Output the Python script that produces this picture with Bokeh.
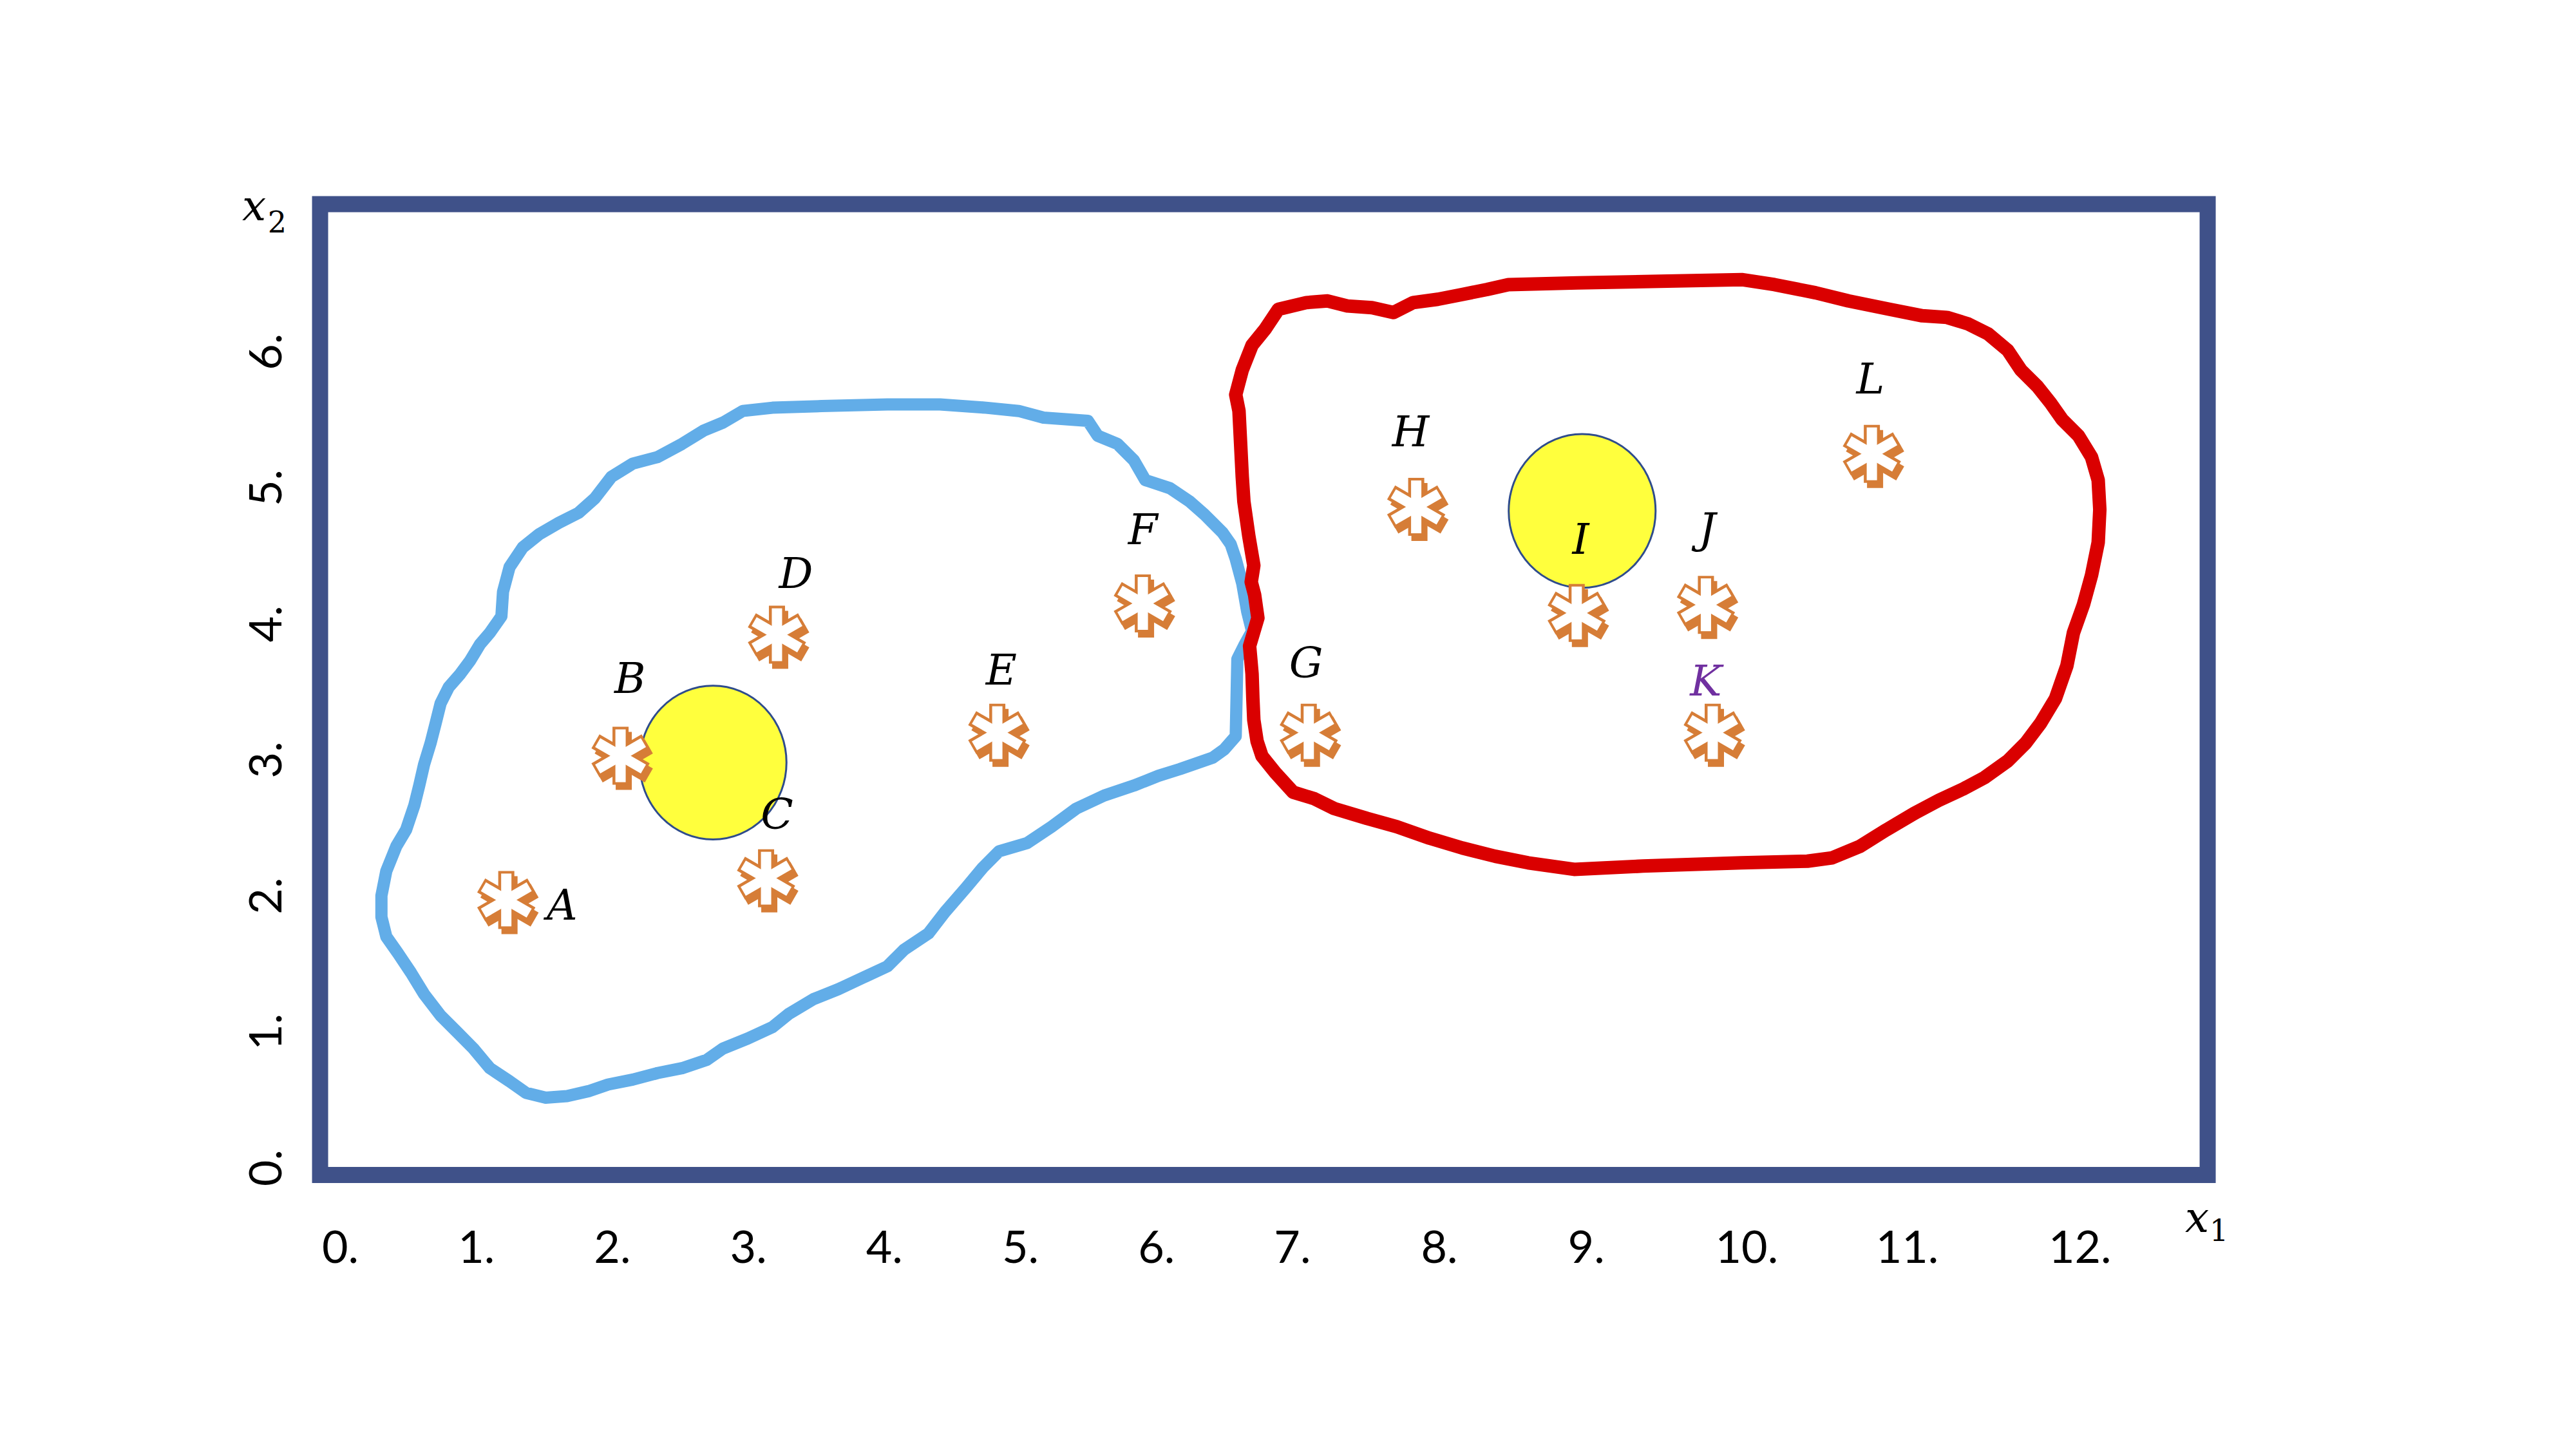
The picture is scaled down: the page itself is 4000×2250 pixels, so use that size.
from bokeh.plotting import figure
from bokeh.models import ColumnDataSource, FixedTicker, CustomJSTickFormatter, Range1d
from bokeh.core.properties import value
from bokeh.embed import file_html
from bokeh.resources import INLINE

# ---------------- data ----------------
point_names = ["A", "B", "C", "D", "E", "F", "G", "H", "I", "J", "K", "L"]
point_x = [1.22, 2.06, 3.13, 3.21, 4.83, 5.90, 7.12, 7.91, 9.09, 10.04, 10.09, 11.26]
point_y = [1.97, 3.03, 2.13, 3.92, 3.20, 4.15, 3.20, 4.86, 4.08, 4.14, 3.20, 5.25]

label_x = [1.63, 2.13, 3.21, 3.35, 4.86, 5.90, 7.10, 7.87, 9.12, 10.05, 10.04, 11.25]
label_y = [1.93, 3.60, 2.60, 4.37, 3.66, 4.69, 3.71, 5.41, 4.62, 4.70, 3.58, 5.80]
label_color = ["black"] * 10 + ["#7030A0", "black"]

centroid_x = [2.74, 9.13]
centroid_y = [2.98, 4.83]
centroid_w = [1.08, 1.08]
centroid_h = [1.13, 1.13]

cluster1_x = [0.302, 0.338, 0.411, 0.483, 0.544, 0.580, 0.616, 0.664, 0.701, 0.737, 0.797, 0.882,
              0.954, 1.027, 1.099, 1.184, 1.196, 1.244, 1.341, 1.462, 1.607, 1.751, 1.872, 1.993,
              2.150, 2.331, 2.512, 2.669, 2.814, 2.959, 3.177, 3.539, 4.022, 4.409, 4.747, 4.988,
              5.170, 5.496, 5.568, 5.713, 5.834, 5.918, 6.100, 6.244, 6.353, 6.414, 6.486, 6.546,
              6.583, 6.631, 6.667, 6.703, 6.643, 6.595, 6.589, 6.583, 6.498, 6.414, 6.172, 6.015,
              5.834, 5.616, 5.411, 5.230, 5.049, 4.843, 4.723, 4.602, 4.445, 4.324, 4.143, 4.022,
              3.841, 3.660, 3.479, 3.297, 3.177, 2.995, 2.814, 2.694, 2.512, 2.331, 2.150, 1.969,
              1.824, 1.667, 1.510, 1.365, 1.244, 1.099, 0.978, 0.858, 0.737, 0.616, 0.520, 0.423,
              0.338, 0.302, 0.302]
cluster1_y = [2.001, 2.183, 2.364, 2.485, 2.666, 2.811, 2.968, 3.125, 3.270, 3.415, 3.535, 3.632,
              3.729, 3.850, 3.934, 4.055, 4.236, 4.417, 4.562, 4.659, 4.743, 4.816, 4.924, 5.081,
              5.178, 5.226, 5.323, 5.420, 5.480, 5.565, 5.589, 5.601, 5.613, 5.613, 5.589, 5.565,
              5.516, 5.492, 5.383, 5.323, 5.202, 5.057, 4.997, 4.900, 4.804, 4.743, 4.671, 4.586,
              4.477, 4.296, 4.091, 3.946, 3.837, 3.741, 3.451, 3.173, 3.076, 3.016, 2.932, 2.883,
              2.811, 2.738, 2.642, 2.509, 2.388, 2.328, 2.207, 2.062, 1.881, 1.724, 1.603, 1.482,
              1.398, 1.313, 1.241, 1.132, 1.035, 0.951, 0.878, 0.794, 0.733, 0.697, 0.649, 0.613,
              0.564, 0.528, 0.516, 0.552, 0.637, 0.733, 0.878, 0.999, 1.120, 1.277, 1.434, 1.579,
              1.700, 1.845, 2.001]

cluster2_x = [6.897, 7.102, 7.259, 7.404, 7.585, 7.742, 7.887, 8.068, 8.249, 8.431, 8.588, 9.095,
              9.699, 10.303, 10.544, 10.846, 11.088, 11.390, 11.631, 11.812, 11.969, 12.114, 12.259,
              12.356, 12.477, 12.573, 12.658, 12.779, 12.875, 12.924, 12.936, 12.924, 12.875, 12.815,
              12.742, 12.694, 12.610, 12.501, 12.392, 12.259, 12.090, 11.933, 11.752, 11.571, 11.366,
              11.172, 10.967, 10.786, 10.303, 9.578, 9.071, 8.733, 8.491, 8.249, 8.008, 7.766, 7.549,
              7.307, 7.162, 7.005, 6.873, 6.776, 6.740, 6.716, 6.709, 6.703, 6.685, 6.746, 6.722,
              6.697, 6.716, 6.679, 6.643, 6.631, 6.619, 6.607, 6.583, 6.631, 6.703, 6.800, 6.897]
cluster2_y = [6.313, 6.362, 6.374, 6.337, 6.325, 6.289, 6.362, 6.386, 6.422, 6.458, 6.494, 6.507,
              6.519, 6.531, 6.494, 6.434, 6.374, 6.313, 6.265, 6.253, 6.205, 6.132, 6.011,
              5.866, 5.746, 5.625, 5.504, 5.383, 5.226, 5.057, 4.840, 4.598, 4.357, 4.139,
              3.934, 3.692, 3.451, 3.270, 3.125, 2.992, 2.871, 2.787, 2.702, 2.606, 2.485,
              2.364, 2.279, 2.255, 2.243, 2.219, 2.195, 2.243, 2.291, 2.352, 2.424, 2.509, 2.569,
              2.642, 2.714, 2.762, 2.907, 3.028, 3.137, 3.294, 3.451, 3.632, 3.837, 4.043, 4.212,
              4.308, 4.429, 4.647, 4.900, 5.081, 5.323, 5.565, 5.685, 5.866, 6.048, 6.168, 6.313]

x_tick_pos = [0, 1, 2, 3, 4, 5, 6, 7, 8.08, 9.16, 10.34, 11.52, 12.79]
x_tick_labels = ["0.", "1.", "2.", "3.", "4.", "5.", "6.", "7.", "8.", "9.", "10.", "11.", "12."]
y_tick_pos = [0, 1, 2, 3, 4, 5, 6]
y_tick_labels = ["0.", "1.", "2.", "3.", "4.", "5.", "6."]

# axes box (left, right, bottom, top) in data units
box_left, box_right, box_bottom, box_top = -0.149, 13.729, -0.052, 7.086

# axis names: (x, y, text, size, style)
axis_names = [(-0.634, 7.073, "x", "66px", "italic"),
              (-0.464, 6.956, "2", "46px", "normal"),
              (13.651, -0.365, "x", "66px", "italic"),
              (13.812, -0.459, "1", "46px", "normal")]

# ---------------- styles ----------------
PX = 211.2            # screen px per data unit
FRAME = "#3F5189"
BLUE = "#62ADE8"
RED = "#DA0000"
ORANGE = "#D67D37"

p = figure(width=3984, height=2234, title=None,
           x_range=Range1d(-1.07955, 16.36364), y_range=Range1d(-0.80966, 8.58428),
           output_backend="svg", toolbar_location=None,
           min_border_left=300, min_border_right=0,
           min_border_top=0, min_border_bottom=250)
p.background_fill_color = "white"
p.border_fill_color = "white"
p.outline_line_color = None
p.xgrid.visible = False
p.ygrid.visible = False

fmt_code = """
let best = 0; let d = Infinity;
for (let i = 0; i < pos.length; i++) { const e = Math.abs(pos[i] - tick); if (e < d) { d = e; best = i; } }
return lab[best];
"""
p.xaxis.ticker = FixedTicker(ticks=x_tick_pos)
p.xaxis.formatter = CustomJSTickFormatter(args=dict(pos=x_tick_pos, lab=x_tick_labels), code=fmt_code)
p.yaxis.ticker = FixedTicker(ticks=y_tick_pos)
p.yaxis.formatter = CustomJSTickFormatter(args=dict(pos=y_tick_pos, lab=y_tick_labels), code=fmt_code)
for ax in (p.xaxis, p.yaxis):
    ax.axis_line_color = None
    ax.major_tick_line_color = None
    ax.minor_tick_line_color = None
    ax.major_tick_out = 0
    ax.major_tick_in = 0
    ax.minor_tick_out = 0
    ax.minor_tick_in = 0
    ax.major_label_text_font = "Lato"
    ax.major_label_text_font_size = "70px"
    ax.major_label_text_color = "black"
p.xaxis.fixed_location = box_bottom
p.yaxis.fixed_location = box_left
p.xaxis.major_label_standoff = 87
p.yaxis.major_label_standoff = 60
p.yaxis.major_label_orientation = "parallel"

# axes box
p.quad(left=[box_left], right=[box_right], bottom=[box_bottom], top=[box_top],
       fill_color=None, line_color=FRAME, line_width=25, line_join="miter")

# cluster outlines
p.line(cluster1_x, cluster1_y, line_color=BLUE, line_width=19, line_join="round", line_cap="round")
p.line(cluster2_x, cluster2_y, line_color=RED, line_width=21, line_join="round", line_cap="round")

# centroids
p.ellipse(x=centroid_x, y=centroid_y, width=centroid_w, height=centroid_h,
          fill_color="#FFFF3D", line_color="#2F4C8C", line_width=3)

# asterisk markers built from 6 spokes each (orange outline, white core, orange shadow)
angles = [90, 30, -30, -90, -150, 150]
sx, sy, sa = [], [], []
for x, y in zip(point_x, point_y):
    for a in angles:
        sx.append(x); sy.append(y); sa.append(a)
shadow_dx, shadow_dy = 5 / PX, -8 / PX
src = ColumnDataSource(dict(x=sx, y=sy, a=sa))
src_sh = ColumnDataSource(dict(x=[v + shadow_dx for v in sx], y=[v + shadow_dy for v in sy], a=sa))
ray_kw = dict(x="x", y="y", length_units="screen", angle="a", angle_units="deg", line_cap="butt")
p.ray(length=45, line_color=ORANGE, line_width=25, source=src_sh, **ray_kw)
p.ray(length=45, line_color=ORANGE, line_width=25, source=src, **ray_kw)
p.ray(length=41, line_color="white", line_width=16, source=src, **ray_kw)

# point labels
lsrc = ColumnDataSource(dict(x=label_x, y=label_y, t=point_names, c=label_color))
p.text(x="x", y="y", text="t", text_color="c", source=lsrc,
       text_font=value("DejaVu Serif"), text_font_style="italic", text_font_size="66px",
       text_align="center", text_baseline="middle")

# axis names x1, x2
for (tx, ty, t, sz, st) in axis_names:
    p.text(x=[tx], y=[ty], text=[t], text_font=value("DejaVu Serif"), text_font_style=st,
           text_font_size=sz, text_align="center", text_baseline="middle", text_color="black")

open("out.html", "w").write(file_html(p, INLINE))
